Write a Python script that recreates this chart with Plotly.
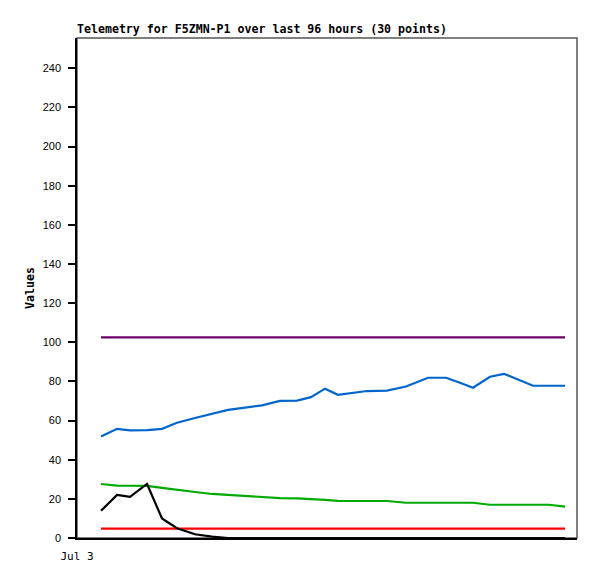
import plotly.graph_objects as go

# hours after Jul 3 00:00 for each of the 30 telemetry points
hours = [4.8, 8.0, 10.6, 14.0, 17.0, 20.0, 23.6, 27.0, 30.2, 33.6,
         37.0, 40.6, 44.0, 46.8, 49.6, 52.2, 55.6, 58.0, 62.0, 65.8,
         70.2, 73.8, 76.6, 79.2, 82.6, 85.4, 88.2, 91.2, 94.4, 97.6]

purple_vals = [102.5] * 30
blue_vals = [51.9, 55.8, 55.0, 55.1, 55.8, 58.9, 61.3, 63.6, 65.5, 66.6,
             67.8, 70.1, 70.2, 72.0, 76.3, 73.2, 74.2, 75.1, 75.3, 77.4,
             81.9, 81.9, 79.3, 76.8, 82.4, 83.9, 81.0, 77.8, 77.8, 77.8]
green_vals = [27.6, 26.8, 26.7, 26.6, 25.6, 24.8, 23.5, 22.5, 22.0, 21.4,
              20.8, 20.4, 20.2, 20.0, 19.5, 19.0, 18.9, 18.9, 18.9, 18.0,
              18.0, 18.0, 18.0, 18.0, 17.0, 17.0, 17.0, 17.0, 17.0, 16.0]
red_vals = [4.8] * 30
black_vals = [13.9, 22.0, 21.0, 27.6, 10.0, 5.0, 1.9, 0.7, 0, 0,
              0, 0, 0, 0, 0, 0, 0, 0, 0, 0,
              0, 0, 0, 0, 0, 0, 0, 0, 0, 0]

y_ticks = list(range(0, 241, 20))
x_tick_labels = ["Jul 3"]

series = [
    (purple_vals, "#6b006b"),
    (blue_vals, "#0066cc"),
    (green_vals, "#00aa00"),
    (red_vals, "#ff0000"),
    (black_vals, "#000000"),
]

fig = go.Figure()
for vals, col in series:
    fig.add_trace(go.Scatter(x=hours, y=vals, mode="lines",
                             line=dict(color=col, width=2.2),
                             showlegend=False, hoverinfo="skip"))

# grey frame around the plot area
fig.add_shape(type="rect", xref="paper", yref="paper", x0=0, y0=0, x1=1, y1=1,
              line=dict(color="#555555", width=1.5), layer="below")

# page body has an 8px margin, so the figure is a bit smaller than the window
fig.update_layout(
    width=581, height=563,
    margin=dict(l=69, r=12, t=30, b=33),
    paper_bgcolor="white", plot_bgcolor="white",
    font=dict(family="Liberation Sans", size=11, color="black"),
    annotations=[dict(text="<b>Telemetry for F5ZMN-P1 over last 96 hours (30 points)</b>",
                      xref="paper", yref="paper", x=0, y=1, xanchor="left",
                      yanchor="bottom", yshift=0, xshift=-2, showarrow=False,
                      font=dict(family="DejaVu Sans Mono", size=11.6))],
    xaxis=dict(range=[0, 100], showgrid=False, zeroline=False,
               showline=True, linecolor="black", linewidth=1.5,
               tickvals=[0], ticktext=x_tick_labels, ticks="",
               ticklabelstandoff=7, automargin=False,
               tickfont=dict(family="DejaVu Sans Mono", size=11)),
    yaxis=dict(range=[0, 255.5], showgrid=False, zeroline=False,
               showline=True, linecolor="black", linewidth=1.5,
               tickvals=y_ticks, ticks="outside", ticklen=7, tickwidth=1.5,
               tickcolor="black", ticklabelstandoff=5,
               title=dict(text="<b>Values</b>", standoff=6,
                          font=dict(family="DejaVu Sans Mono", size=11.6))),
)

fig.write_html("out.html")
